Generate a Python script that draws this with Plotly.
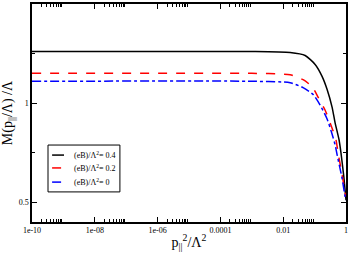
import plotly.graph_objects as go

# data
x_b04 = [1e-10, 1e-3, 0.0166, 0.05, 0.104, 0.173, 0.249, 0.36, 0.45, 0.60, 0.69, 0.85, 1.0]
y_b04 = [1.26, 1.26, 1.255, 1.24, 1.195, 1.135, 1.07, 0.98, 0.90, 0.815, 0.75, 0.63, 0.51]

x_b02 = [1e-10, 1e-3, 0.0166, 0.043, 0.083, 0.129, 0.215, 0.33, 0.48, 0.557, 0.75, 0.93, 1.0]
y_b02 = [1.15, 1.15, 1.143, 1.118, 1.083, 1.03, 0.965, 0.89, 0.815, 0.75, 0.64, 0.55, 0.53]

x_b00 = [1e-10, 1e-3, 0.0166, 0.043, 0.09, 0.15, 0.25, 0.35, 0.45, 0.52, 0.75, 0.93, 1.0]
y_b00 = [1.11, 1.11, 1.103, 1.078, 1.043, 0.99, 0.92, 0.85, 0.79, 0.74, 0.62, 0.53, 0.51]

names = ["(eB)/Λ<sup>2</sup>= 0.4", "(eB)/Λ<sup>2</sup>= 0.2", "(eB)/Λ<sup>2</sup>= 0"]
colors = ["black", "red", "blue"]
dashes = ["solid", "dash", "dashdot"]

x_tickvals = [1e-10, 1e-8, 1e-6, 1e-4, 1e-2, 1]
x_ticktext = ["1e-10", "1e-08", "1e-06", "0.0001", "0.01", "1"]
y_tickvals = [0.5, 1, 1.5]
y_ticktext = ["0.5", "1", "1.5"]

minor_x = [m * d for d in x_tickvals[:-1] for m in range(2, 10)]

FONT = "Liberation Serif"

fig = go.Figure()
for xs, ys, nm, col, dash in zip([x_b04, x_b02, x_b00], [y_b04, y_b02, y_b00], names, colors, dashes):
    fig.add_trace(go.Scatter(x=xs, y=ys, mode="lines", name=nm, showlegend=False,
                             line=dict(color=col, width=1.5, dash=dash, shape="spline", smoothing=0.6)))

axis_common = dict(showgrid=False, zeroline=False, showline=True, linecolor="black", linewidth=1.5,
                   mirror="ticks", ticks="inside", tickcolor="black", ticklen=5, tickwidth=1,
                   automargin=False,
                   tickfont=dict(family=FONT, size=8, color="black"))

fig.update_xaxes(type="log", range=[-10, 0], tickmode="array", tickvals=x_tickvals, ticktext=x_ticktext,
                 minor=dict(tickmode="array", tickvals=minor_x, ticks="inside", ticklen=3, tickcolor="black"),
                 title=dict(text="p<sub>||</sub><sup>2</sup>/Λ<sup>2</sup>", font=dict(family=FONT, size=14, color="black"), standoff=3),
                 **axis_common)
fig.update_yaxes(range=[0.4, 1.5], tickmode="array", tickvals=y_tickvals, ticktext=y_ticktext,
                 minor=dict(dtick=0.25, ticks="inside", ticklen=3, tickcolor="black"),
                 title=dict(text="M(p<sub>||</sub>/Λ) /Λ", font=dict(family=FONT, size=14, color="black"), standoff=5),
                 **axis_common)

# hand-drawn legend box (paper coordinates)
fig.add_shape(type="rect", xref="paper", yref="paper", x0=0.051, x1=0.280, y0=0.138, y1=0.353,
              line=dict(color="black", width=1), fillcolor="white", layer="above")
leg_y = [0.307, 0.248, 0.183]
for yy, nm, col, dash in zip(leg_y, names, colors, dashes):
    fig.add_shape(type="line", xref="paper", yref="paper", x0=0.064, x1=0.102, y0=yy, y1=yy,
                  line=dict(color=col, width=1.5, dash=dash), layer="above")
    fig.add_annotation(xref="paper", yref="paper", x=0.127, y=yy, xanchor="left", yanchor="middle",
                       text=nm, showarrow=False, font=dict(family=FONT, size=8, color="black"))

fig.update_layout(width=349, height=257, margin=dict(l=32, r=3, t=4, b=35, autoexpand=False),
                  paper_bgcolor="white", plot_bgcolor="white", showlegend=False)

fig.write_html("out.html", config={"displayModeBar": False},
               post_script="document.body.style.margin='0';")
